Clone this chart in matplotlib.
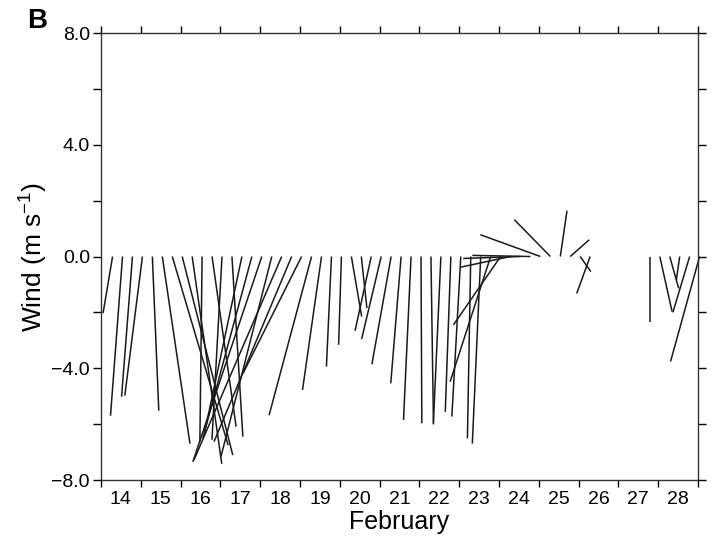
import numpy as np
import matplotlib
matplotlib.use("Agg")
import matplotlib.pyplot as plt

plt.rcParams['font.family'] = ['Liberation Sans', 'DejaVu Sans']

# 6-hourly wind sticks, Feb 14 07:00 onwards (day of February)
t_start = 14.29
t_step = 0.25

# east (u) and north (v) components, m/s ; nan = no data
u = [-0.34, -0.43, -0.39, -0.63, 0.23, 0.99,
     2.00, 1.81, 1.06, -0.08, 0.86, -0.36, 0.39, -1.33,
     -1.76, -2.47, -1.82, -3.14, -2.78, -2.10,
     -1.52, -0.68, -0.18, -0.10,
     0.37, 0.20, -0.58, -0.70, -0.69, -0.37, -0.27, 0.03, 0.09,
     -0.27, -0.20, -0.32, -0.12, -0.30,
     -1.45, -1.69, -1.78, -2.05, -2.08, -2.15, -1.29, 0.24, 0.68, 0.38, -0.48,
     np.nan, np.nan, np.nan, np.nan, np.nan,
     0.00, 0.44, 0.32, -0.12, -0.60, -1.04]
v = [-2.03, -5.70, -5.02, -4.98, -5.52, -6.70,
     -6.75, -7.11, -7.42, -6.63, -6.09, -6.56, -6.45, -6.27,
     -6.52, -7.35, -7.17, -7.28, -6.63, -4.19,
     -5.68, -4.78, -3.94, -3.16,
     -2.15, -1.85, -2.66, -2.95, -3.86, -4.54, -5.85, -5.97, -6.01,
     -5.97, -5.56, -5.73, -6.51, -6.70,
     -4.48, -2.45, -0.38, -0.07, 0.04, 0.78, 1.32, 1.64, 0.60, -0.54, -1.32,
     np.nan, np.nan, np.nan, np.nan, np.nan,
     -2.33, -1.97, -1.14, -0.84, -2.00, -3.76]

days = list(range(14, 29))
y_ticks = [-8, -6, -4, -2, 0, 2, 4, 6, 8]
y_labels = ['\u22128.0', '', '\u22124.0', '', '0.0', '', '4.0', '', '8.0']

fig = plt.figure(figsize=(7.17, 5.53), dpi=100)
ax = fig.add_axes([0.1409, 0.132, 0.8326, 0.8083])
ax.set_xlim(14, 29)
ax.set_ylim(-8, 8)

# horizontal component drawn with the same length scale as the vertical one
fw, fh = fig.get_size_inches()
pos = ax.get_position()
scale = (15 / (pos.width * fw)) * ((pos.height * fh) / 16)

t = t_start + t_step * np.arange(len(u))
for ti, ui, vi in zip(t, u, v):
    if np.isnan(ui):
        continue
    ax.plot([ti, ti + ui * scale], [0, vi], color='#1a1a1a', lw=1.1,
            solid_capstyle='butt', clip_on=False)

ax.set_xticks(range(14, 30))
ax.set_xticklabels([])
ax.set_xticks([d + 0.5 for d in days], minor=True)
ax.set_xticklabels([str(d) for d in days], minor=True, fontsize=14)
ax.tick_params(axis='x', which='minor', length=0, pad=8)
ax.tick_params(axis='x', which='major', direction='out', length=5, width=1,
               top=True)
ax.set_yticks(y_ticks)
ax.set_yticklabels(y_labels, fontsize=14)
ax.tick_params(axis='y', direction='out', length=6, width=1, right=True, pad=2)

for s in ax.spines.values():
    s.set_linewidth(1.0)
    s.set_color('#333333')

ax.set_xlabel('February', fontsize=18, labelpad=1)
ax.set_ylabel('Wind (m s$^{\\mathregular{-1}}$)', fontsize=19, labelpad=2)
fig.text(0.038, 0.962, 'B', fontsize=20, fontweight='bold', va='center')

fig.savefig('out.png', dpi=100)
